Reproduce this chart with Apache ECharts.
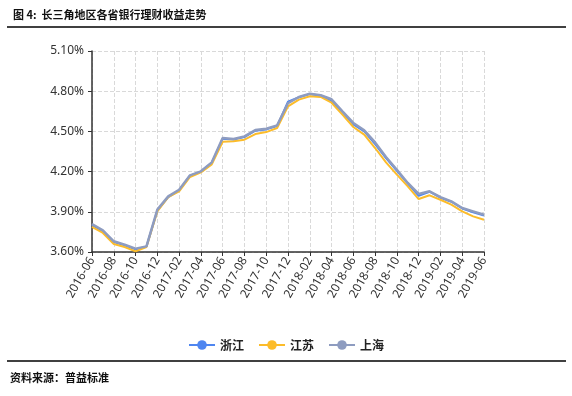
<!DOCTYPE html>
<html><head><meta charset="utf-8">
<script src="https://cdn.jsdelivr.net/npm/echarts@6/dist/echarts.min.js"></script>
<style>html,body{margin:0;padding:0;background:#fff}#c{width:572px;height:396px}</style>
</head><body><div id="c"></div>
<script>
const categories = ['2016-06','2016-07','2016-08','2016-09','2016-10','2016-11','2016-12','2017-01','2017-02','2017-03','2017-04','2017-05','2017-06','2017-07','2017-08','2017-09','2017-10','2017-11','2017-12','2018-01','2018-02','2018-03','2018-04','2018-05','2018-06','2018-07','2018-08','2018-09','2018-10','2018-11','2018-12','2019-01','2019-02','2019-03','2019-04','2019-05','2019-06'];
const zhejiang = [3.80,3.755,3.675,3.65,3.62,3.64,3.91,4.01,4.06,4.17,4.20,4.265,4.445,4.44,4.458,4.505,4.515,4.54,4.722,4.755,4.778,4.768,4.728,4.645,4.553,4.50,4.405,4.30,4.205,4.11,4.02,4.05,4.005,3.975,3.925,3.897,3.872];
const jiangsu = [3.787,3.742,3.66,3.637,3.605,3.637,3.903,4.01,4.053,4.16,4.194,4.254,4.423,4.426,4.438,4.48,4.495,4.525,4.687,4.737,4.762,4.757,4.714,4.625,4.533,4.476,4.376,4.269,4.177,4.09,3.995,4.023,3.99,3.953,3.903,3.866,3.841];
const shanghai = [3.809,3.762,3.68,3.655,3.625,3.642,3.916,4.015,4.065,4.172,4.202,4.269,4.45,4.443,4.463,4.51,4.52,4.545,4.71,4.757,4.782,4.77,4.74,4.65,4.563,4.508,4.418,4.309,4.214,4.115,4.033,4.053,4.01,3.978,3.928,3.903,3.878];
const yTicks = {min:3.6, max:5.1, interval:0.3};

const chart = echarts.init(document.getElementById('c'));
const cjk = '"Noto Sans CJK SC", sans-serif';
function mk(name, data, color, w){
  return {name, type:'line', data, symbol:'circle', symbolSize:8, showSymbol:false,
    itemStyle:{color}, lineStyle:{color, width:w}, smooth:false, z: 2};
}
chart.setOption({
  animation:false,
  textStyle:{fontFamily:'"Noto Sans", sans-serif'},
  title:{text:'图 4:  长三角地区各省银行理财收益走势', left:8, top:4,
    textStyle:{fontFamily:cjk, fontSize:11, fontWeight:'bold', color:'#111'}},
  graphic:[
    {type:'line', shape:{x1:7,y1:27,x2:566,y2:27}, style:{stroke:'#000', lineWidth:1.5}},
    {type:'line', shape:{x1:7,y1:361,x2:566,y2:361}, style:{stroke:'#000', lineWidth:1.5}},
    {type:'text', left:10, top:372, style:{text:'资料来源：普益标准', font:'bold 11px "Noto Sans CJK SC"', fill:'#111'}}
  ],
  legend:{data:['浙江','江苏','上海'], top:334, left:'center', itemWidth:26, itemHeight:12, itemGap:14,
    textStyle:{fontFamily:cjk, fontSize:12, fontWeight:'bold', color:'#222'}},
  grid:{left:92, right:88, top:51, bottom:144, containLabel:false},
  xAxis:{type:'category', data:categories, boundaryGap:false,
    axisLine:{lineStyle:{color:'#333', width:1.5}},
    axisTick:{interval:1, length:4, lineStyle:{color:'#333'}},
    axisLabel:{interval:1, rotate:60, fontSize:12, color:'#333', margin:6},
    splitLine:{show:true, interval:1, lineStyle:{type:'dashed', color:'#d9d9d9', width:1}}},
  yAxis:{type:'value', min:yTicks.min, max:yTicks.max, interval:yTicks.interval,
    axisLine:{show:true, lineStyle:{color:'#333', width:1.5}},
    axisTick:{show:true, length:4, lineStyle:{color:'#333'}},
    axisLabel:{fontSize:12, color:'#333', formatter:v=>v.toFixed(2)+'%'},
    splitLine:{show:true, lineStyle:{type:'dashed', color:'#d9d9d9', width:1}}},
  series:[
    mk('浙江', zhejiang, '#4F86F0', 2),
    mk('江苏', jiangsu, '#FCBC2A', 2),
    mk('上海', shanghai, '#8E9CC0', 2.5)
  ]
});
</script></body></html>
